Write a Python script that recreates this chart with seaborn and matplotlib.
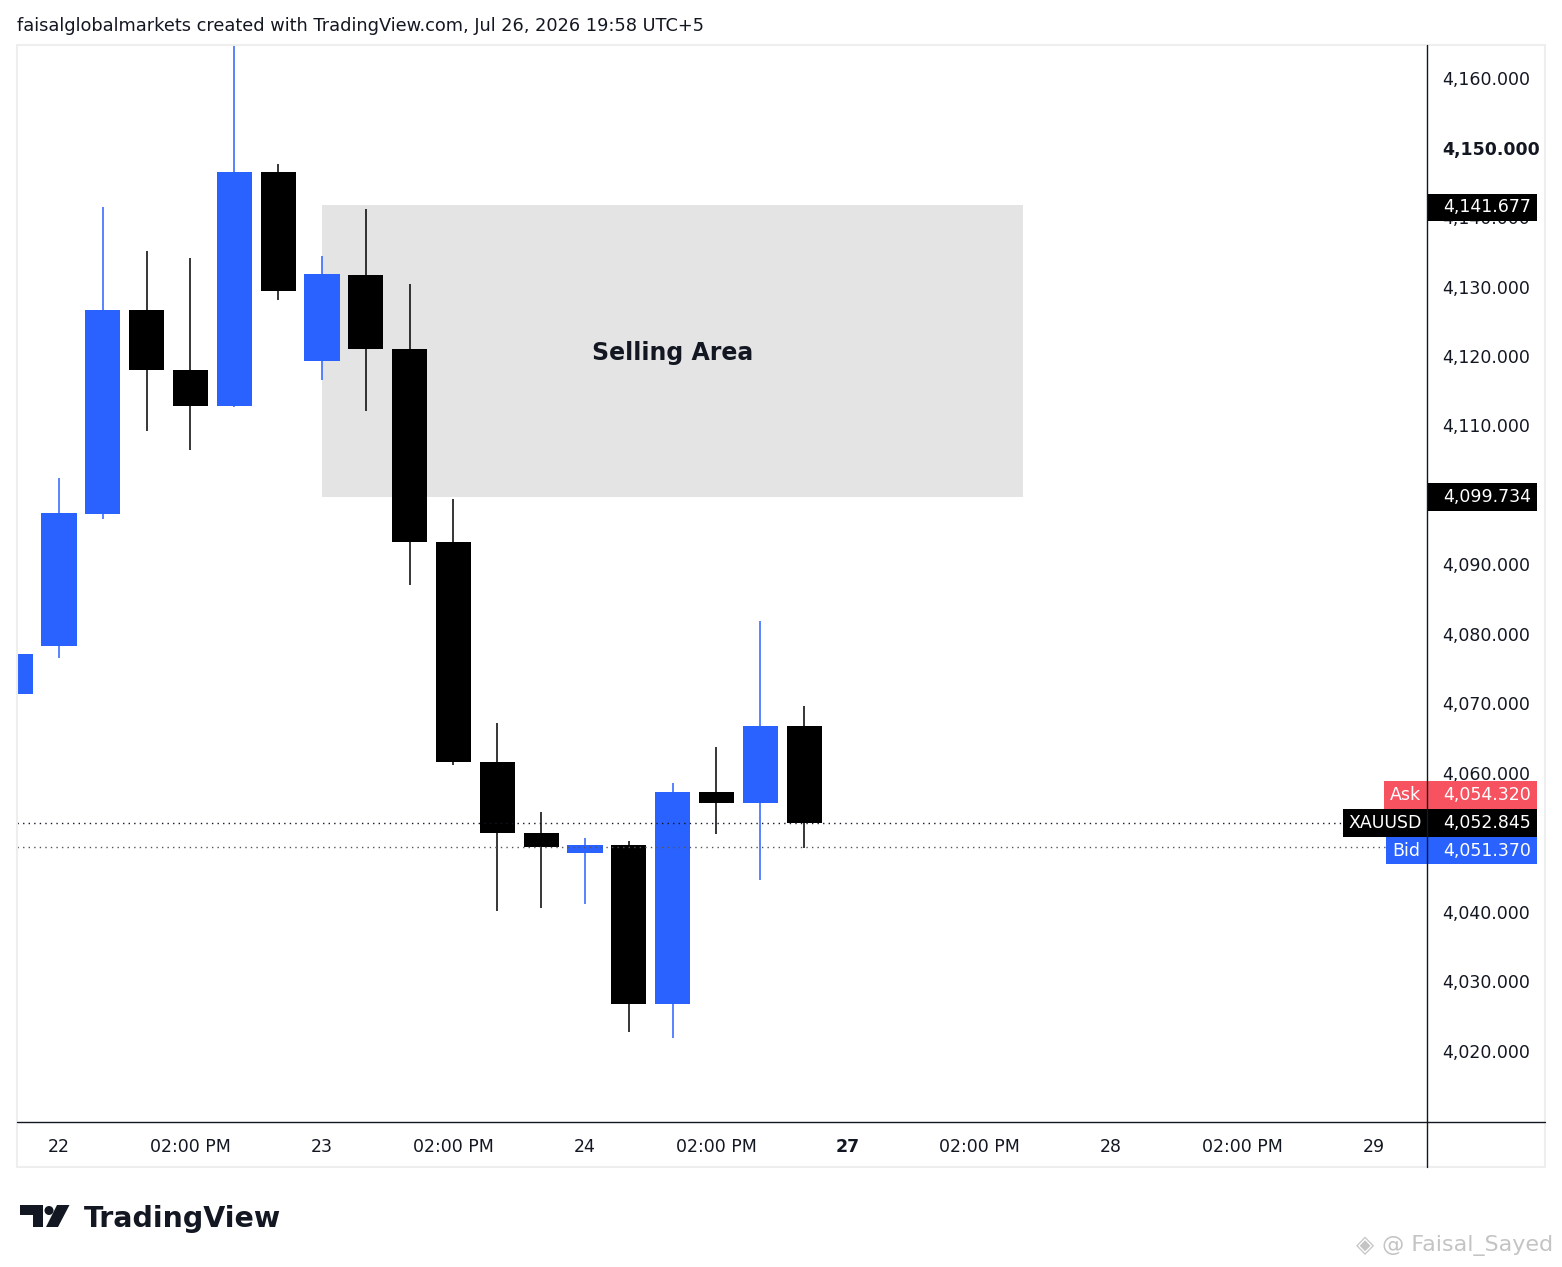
import matplotlib
matplotlib.use("Agg")
import matplotlib.pyplot as plt
from matplotlib.lines import Line2D
from matplotlib.patches import Ellipse, Polygon, Rectangle
from matplotlib.transforms import blended_transform_factory
import pandas as pd
import seaborn as sns

sns.set_theme(style="white")
plt.rcParams["font.family"] = ["DejaVu Sans"]

UP_COLOR = "#2962FF"
DOWN_COLOR = "#000000"
ASK_COLOR = "#F7525F"
ZONE_COLOR = "#E4E4E4"
TEXT_COLOR = "#131722"

W, H = 1562, 1267

# ---------------------------------------------------------------------------
# Data
# ---------------------------------------------------------------------------

bar_index = list(range(-1, 18))
opens = [4071.3, 4078.3, 4097.3, 4126.6, 4118.0, 4112.8, 4146.5, 4119.3, 4131.6, 4121.0,
         4093.3, 4061.6, 4051.3, 4048.5, 4049.6, 4026.8, 4057.3, 4055.7, 4066.8]
highs = [4078.0, 4102.4, 4141.5, 4135.1, 4134.1, 4170.0, 4147.6, 4134.4, 4141.1, 4130.4,
         4099.4, 4067.2, 4054.4, 4050.7, 4050.2, 4058.5, 4063.7, 4081.9, 4069.7]
lows = [4070.5, 4076.6, 4096.6, 4109.2, 4106.5, 4112.6, 4128.1, 4116.5, 4112.1, 4087.0,
        4061.1, 4040.2, 4040.6, 4041.1, 4022.7, 4021.9, 4051.2, 4044.6, 4049.2]
closes = [4077.1, 4097.4, 4126.6, 4118.0, 4112.8, 4146.5, 4129.4, 4131.8, 4121.0, 4093.3,
          4061.6, 4051.3, 4049.3, 4049.6, 4026.8, 4057.3, 4055.7, 4066.8, 4052.845]

time_ticks = [0, 3, 6, 9, 12, 15, 18, 21, 24, 27, 30]
time_labels = ["22", "02:00 PM", "23", "02:00 PM", "24", "02:00 PM",
               "27", "02:00 PM", "28", "02:00 PM", "29"]
# 4,050 and 4,100 sit fully under the price tags, so they are left out
price_ticks = [4020, 4030, 4040, 4060, 4070, 4080, 4090, 4110, 4120, 4130, 4140, 4150, 4160]

zone_top = 4141.677
zone_bottom = 4099.734
zone_start = 6
zone_end = 22
zone_label = "Selling Area"

ask_price = 4054.320
last_price = 4052.845
bid_price = 4051.370
prev_close = 4049.4
symbol = "XAUUSD"

header = "faisalglobalmarkets created with TradingView.com, Jul 26, 2026 19:58 UTC+5"


def fx(px):
    return px / W


def fy(py):
    return 1 - py / H


df = pd.DataFrame({"i": bar_index, "open": opens, "high": highs, "low": lows, "close": closes})
df["color"] = [UP_COLOR if c >= o else DOWN_COLOR for o, c in zip(df["open"], df["close"])]

fig = plt.figure(figsize=(W / 100, H / 100), dpi=100, facecolor="white")
ax = fig.add_axes([fx(17), fy(1122), (1427 - 17) / W, (1122 - 45) / H])
ax.set_facecolor("white")
for s in ax.spines.values():
    s.set_visible(False)

# selling zone
ax.add_patch(Rectangle((zone_start, zone_bottom), zone_end - zone_start, zone_top - zone_bottom,
                       color=ZONE_COLOR, lw=0, zorder=0.5))
ax.text((zone_start + zone_end) / 2, (zone_top + zone_bottom) / 2 - 0.3, zone_label,
        ha="center", va="center", fontsize=17, fontweight="bold", color=TEXT_COLOR, zorder=1)

# candles
ax.vlines(df["i"], df["low"], df["high"], colors=df["color"], lw=1.1, zorder=2)
ax.bar(df["i"], df["close"] - df["open"], bottom=df["open"], width=0.8,
       color=df["color"], lw=0, zorder=2.2)

# price lines
ax.axhline(last_price, color=TEXT_COLOR, lw=1.0, ls=(0, (1, 3)), zorder=3)
ax.axhline(prev_close, color="#555555", lw=1.0, ls=(0, (1, 3)), zorder=3)

ax.set_xlim(-0.958, 31.21)
ax.set_ylim(4009.78, 4164.75)

ax.yaxis.tick_right()
ax.set_yticks(price_ticks, labels=[f"{v:,.3f}" for v in price_ticks])
ax.set_xticks(time_ticks, labels=time_labels)
ax.tick_params(axis="y", length=0, pad=11, labelsize=12.5, colors=TEXT_COLOR)
ax.tick_params(axis="x", length=0, pad=11.5, labelsize=12.5, colors=TEXT_COLOR)
ax.get_yticklabels()[price_ticks.index(4150)].set_fontweight("bold")
ax.get_xticklabels()[time_labels.index("27")].set_fontweight("bold")
ax.grid(False)

# price tags on the scale
trans = blended_transform_factory(ax.transAxes, ax.transData)
TAG_H = 4.0
TAG_RIGHT = 1.078


def price_tag(y, text, color, left=1.0, side_text=None, side_x=None):
    ax.add_patch(Rectangle((left, y - TAG_H / 2), TAG_RIGHT - left, TAG_H, transform=trans,
                           color=color, lw=0, clip_on=False, zorder=6))
    ax.text(1.0738, y, text, transform=trans, ha="right", va="center", color="white",
            fontsize=12.5, clip_on=False, zorder=7)
    if side_text:
        ax.text(side_x, y, side_text, transform=trans, ha="center", va="center",
                color="white", fontsize=12.5, clip_on=False, zorder=7)


price_tag(zone_top - 0.3, f"{zone_top:,.3f}", DOWN_COLOR)
price_tag(zone_bottom, f"{zone_bottom:,.3f}", DOWN_COLOR)
price_tag(last_price + TAG_H, f"{ask_price:,.3f}", ASK_COLOR, left=0.9695,
          side_text="Ask", side_x=0.9844)
price_tag(last_price, f"{last_price:,.3f}", DOWN_COLOR, left=0.9404,
          side_text=symbol, side_x=0.970)
price_tag(last_price - TAG_H, f"{bid_price:,.3f}", UP_COLOR, left=0.9709,
          side_text="Bid", side_x=0.985)

# frame and scale separators
fig.add_artist(Rectangle((fx(17), fy(1167)), (1545 - 17) / W, (1167 - 45) / H,
                         transform=fig.transFigure, fill=False, edgecolor="#EEEEEE", lw=1.5))
fig.add_artist(Line2D([fx(1427), fx(1427)], [fy(45), fy(1167)], color=TEXT_COLOR, lw=1.0, zorder=8))
fig.add_artist(Line2D([fx(17), fx(1545)], [fy(1122), fy(1122)], color=TEXT_COLOR, lw=1.0, zorder=8))

# header
fig.text(fx(17), fy(26), header, ha="left", va="center", fontsize=12.8, color=TEXT_COLOR)

# TradingView logo
logo = dict(transform=fig.transFigure, color=TEXT_COLOR, lw=0)
fig.add_artist(Rectangle((fx(20), fy(1215)), 23 / W, 10 / H, **logo))
fig.add_artist(Rectangle((fx(33), fy(1227)), 10 / W, 22 / H, **logo))
fig.add_artist(Ellipse((fx(49), fy(1210.5)), 9 / W, 9 / H, **logo))
fig.add_artist(Polygon([(fx(57), fy(1205)), (fx(69.5), fy(1205)), (fx(58), fy(1227)),
                        (fx(46), fy(1227))], closed=True, **logo))
fig.text(fx(84), fy(1227), "TradingView", ha="left", va="baseline", fontsize=20.5,
         fontweight="bold", color=TEXT_COLOR)

# watermark
fig.text(fx(1553), fy(1251), "@ Faisal_Sayed", ha="right", va="baseline", fontsize=16,
         color="#C4C4C4")
fig.text(fx(1365), fy(1245), "\u25c8", ha="center", va="center", fontsize=17, color="#C4C4C4")

fig.savefig("out.png", dpi=100)
